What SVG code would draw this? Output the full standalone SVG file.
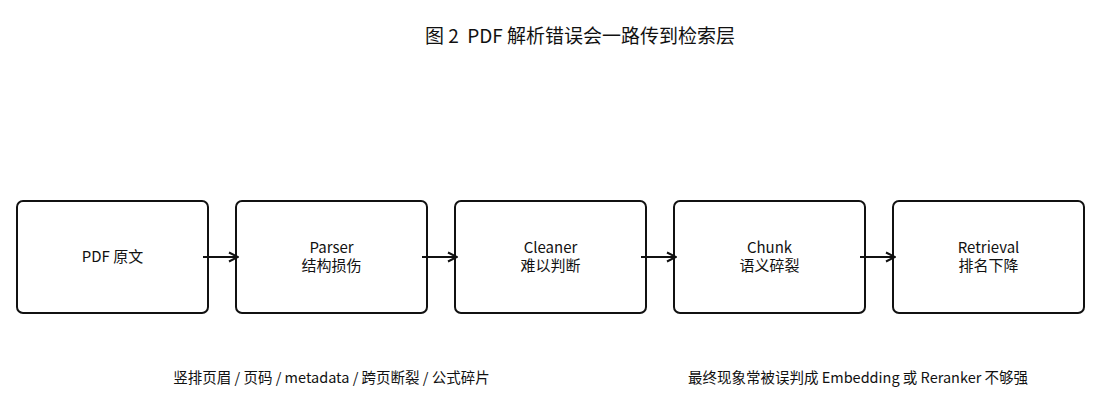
<svg xmlns="http://www.w3.org/2000/svg" width="1100" height="415" viewBox="0 0 1100 415">
<defs>
<style>
text{font-family:"Noto Sans CJK SC","Noto Sans",sans-serif;fill:#111;text-anchor:middle;white-space:pre}
.box{fill:#fff;stroke:#111;stroke-width:2}
.lbl{font-size:15px}
.note{font-size:14.5px}
.title{font-size:19px}
.conn{stroke:#111;stroke-width:2;fill:none;marker-end:url(#ah)}
</style>
<marker id="ah" viewBox="0 0 12 12" refX="11" refY="6" markerWidth="12" markerHeight="12" markerUnits="userSpaceOnUse" orient="auto">
<path d="M2,1.5 L11,6 L2,10.5" fill="none" stroke="#111" stroke-width="2"/>
</marker>
</defs>
<rect width="1100" height="415" fill="#fff"/>
<text class="title" x="580" y="43" xml:space="preserve">图 2  PDF 解析错误会一路传到检索层</text>
<g id="n1"><rect class="box" x="17" y="201" width="191" height="112" rx="6"/><text class="lbl" x="112.5" y="262">PDF 原文</text></g>
<g id="n2"><rect class="box" x="236" y="201" width="191" height="112" rx="6"/><text class="lbl" x="331.5" y="252.5">Parser<tspan x="331.5" dy="18">结构损伤</tspan></text></g>
<g id="n3"><rect class="box" x="455" y="201" width="191" height="112" rx="6"/><text class="lbl" x="550.5" y="252.5">Cleaner<tspan x="550.5" dy="18">难以判断</tspan></text></g>
<g id="n4"><rect class="box" x="674" y="201" width="191" height="112" rx="6"/><text class="lbl" x="769.5" y="252.5">Chunk<tspan x="769.5" dy="18">语义碎裂</tspan></text></g>
<g id="n5"><rect class="box" x="893" y="201" width="191" height="112" rx="6"/><text class="lbl" x="988.5" y="252.5">Retrieval<tspan x="988.5" dy="18">排名下降</tspan></text></g>
<g id="connectors">
<line class="conn" x1="203" y1="257" x2="238" y2="257"/>
<line class="conn" x1="422" y1="257" x2="457" y2="257"/>
<line class="conn" x1="641" y1="257" x2="676" y2="257"/>
<line class="conn" x1="860" y1="257" x2="895" y2="257"/>
</g>
<text class="note" x="331.5" y="383">竖排页眉 / 页码 / metadata / 跨页断裂 / 公式碎片</text>
<text class="note" x="858" y="383">最终现象常被误判成 Embedding 或 Reranker 不够强</text>
</svg>
